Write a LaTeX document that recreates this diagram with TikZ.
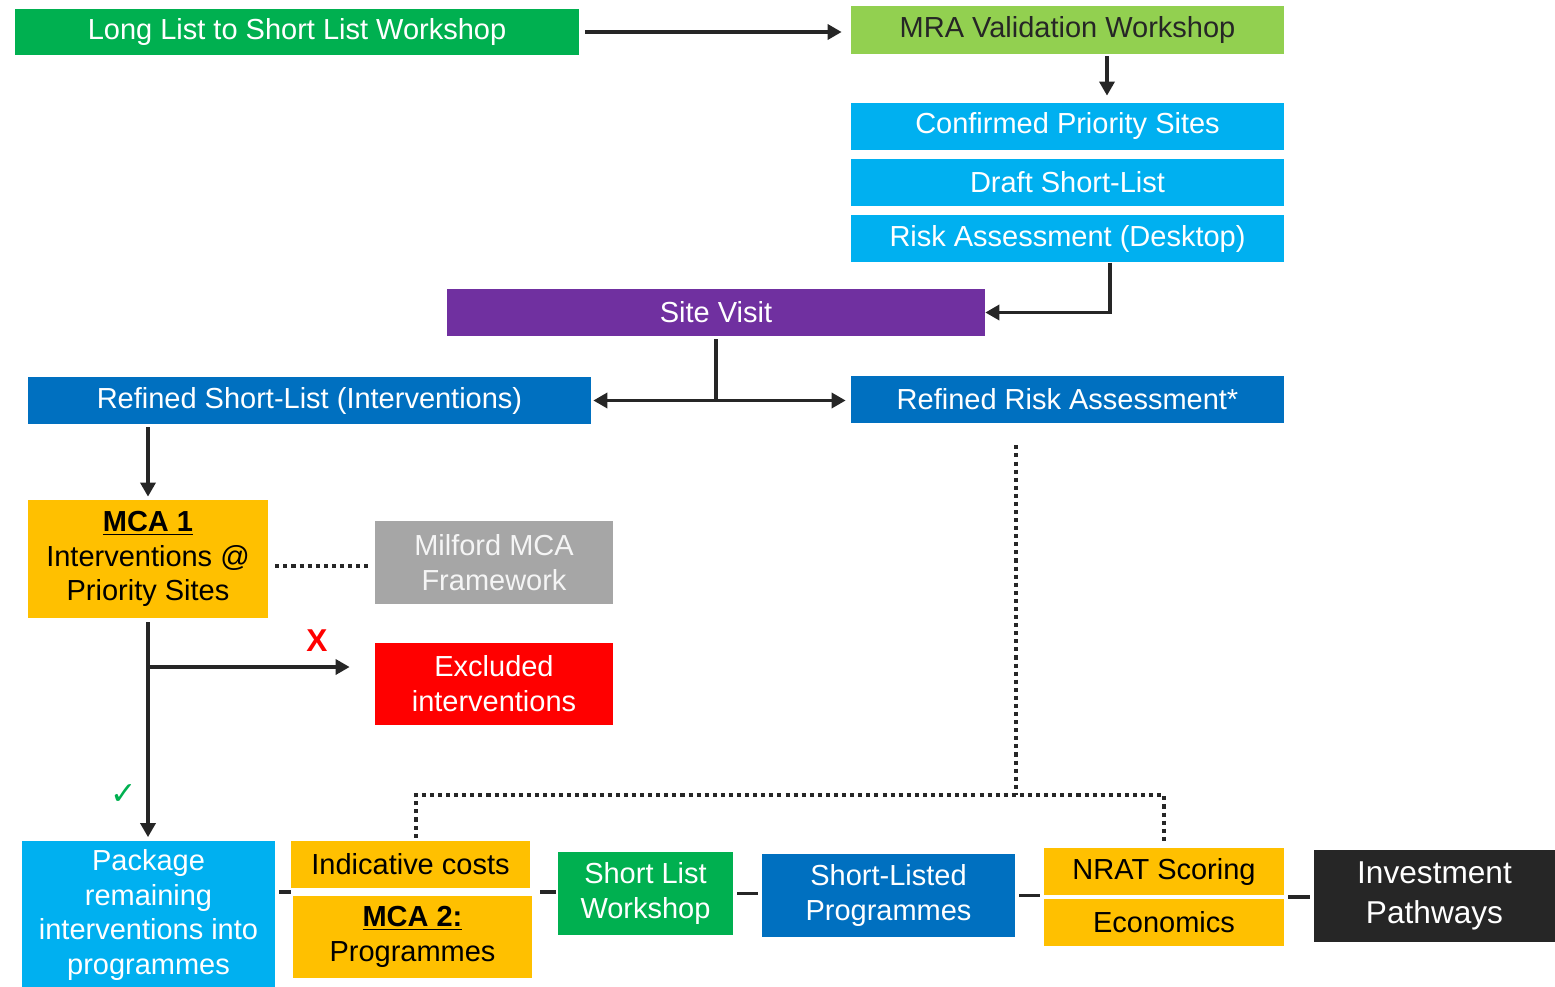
\documentclass[tikz,border=0pt]{standalone}
\usepackage{fontspec}
\setmainfont{Liberation Sans}
\newfontfamily\symbolfont{DejaVu Sans}
\usepackage{xcolor}
\usepackage{tikz}
\usetikzlibrary{positioning,arrows.meta,calc}
\definecolor{workgreen}{HTML}{00B050}
\definecolor{limegreen}{HTML}{92D050}
\definecolor{skyblue}{HTML}{00B0F0}
\definecolor{deepblue}{HTML}{0070C0}
\definecolor{visitpurple}{HTML}{7030A0}
\definecolor{mcaamber}{HTML}{FFC000}
\definecolor{framegray}{HTML}{A6A6A6}
\definecolor{dropred}{HTML}{FF0000}
\definecolor{inkdark}{HTML}{262626}
\tikzset{
  stage/.style={rectangle,inner sep=2pt,align=center,text=white,font=\fontsize{16.5}{19.8}\selectfont},
  bar/.style={stage,minimum width=8.66cm,minimum height=0.94cm},
  arrow/.style={-{Triangle[length=8pt,width=8.5pt]},line width=2pt,draw=inkdark},
  link/.style={line width=2pt,draw=inkdark},
  dotline/.style={line width=2.5pt,dash pattern=on 2.3pt off 2.3pt,draw=inkdark}
}

\begin{document}
\begin{tikzpicture}[x=0.02cm,y=-0.02cm,node distance=0.16cm]
\useasboundingbox (0,0) rectangle (1555,987);

\node[stage,fill=workgreen,minimum width=11.28cm,minimum height=0.92cm] (longlist) at (297,32) {Long List to Short List Workshop};
\node[bar,fill=limegreen,text=inkdark,minimum height=0.96cm] (mra) at (1067.5,30) {MRA Validation Workshop};
\node[bar,fill=skyblue] (priority) at (1067.5,126.5) {Confirmed Priority Sites};
\node[bar,fill=skyblue,below=of priority] (draft) {Draft Short-List};
\node[bar,fill=skyblue,below=0.18cm of draft] (desktop) {Risk Assessment (Desktop)};
\node[stage,fill=visitpurple,minimum width=10.76cm,minimum height=0.94cm] (visit) at (716,312.5) {Site Visit};
\node[stage,fill=deepblue,minimum width=11.26cm,minimum height=0.94cm] (refinedlist) at (309.5,400.5) {Refined Short-List (Interventions)};
\node[bar,fill=deepblue] (refinedrisk) at (1067.5,399.5) {Refined Risk Assessment*};

\node[stage,fill=mcaamber,text=black,minimum width=4.8cm,minimum height=2.36cm] (mcaone) at (148,559) {\underline{\textbf{MCA 1}}\\Interventions @\\Priority Sites};
\node[stage,fill=framegray,text=white!92!gray,minimum width=4.76cm,minimum height=1.66cm] (milford) at (494,562.5) {Milford MCA\\Framework};
\node[stage,fill=dropred,minimum width=4.76cm,minimum height=1.64cm] (excluded) at (494,684) {Excluded\\interventions};
\node[text=dropred,font=\bfseries\fontsize{18}{18}\selectfont] (cross) at (317,641) {X};
\node[text=workgreen,font=\symbolfont\fontsize{18}{18}\selectfont] (tick) at (124,795) {✓};

\node[stage,fill=skyblue,minimum width=5.06cm,minimum height=2.98cm] (package) at (148.5,915) {Package\\remaining\\interventions into\\programmes};
\node[stage,fill=mcaamber,text=black,minimum width=4.78cm,minimum height=0.94cm] (costs) at (410.5,864.5) {Indicative costs};
\node[stage,fill=mcaamber,text=black,minimum width=4.78cm,minimum height=1.64cm] (mcatwo) at (412.5,937) {\underline{\textbf{MCA 2:}}\\Programmes};
\node[stage,fill=workgreen,minimum width=3.5cm,minimum height=1.66cm] (slworkshop) at (645.5,893.5) {Short List\\Workshop};
\node[stage,fill=deepblue,minimum width=5.06cm,minimum height=1.66cm] (slprogrammes) at (888.5,895.5) {Short-Listed\\Programmes};
\node[stage,fill=mcaamber,text=black,minimum width=4.8cm,minimum height=0.94cm] (nrat) at (1164,871.5) {NRAT Scoring};
\node[stage,fill=mcaamber,text=black,minimum width=4.8cm,minimum height=0.94cm] (economics) at (1164,922.5) {Economics};
\node[stage,fill=inkdark,font=\fontsize{18}{22.5}\selectfont,minimum width=4.82cm,minimum height=1.84cm] (pathways) at (1434.5,896) {Investment\\Pathways};

\coordinate (split) at (visit.south |- refinedlist.east);
\coordinate (fork) at (148,667);
\coordinate (seam) at ($(costs.south)!0.5!(mcatwo.north)$);
\coordinate (seamtwo) at ($(nrat.south)!0.5!(economics.north)$);
\coordinate (dotjoin) at (1016,795);

\draw[arrow,shorten <=0.12cm,shorten >=0.18cm] (longlist.east) -- (longlist.east -| mra.west);
\draw[arrow,shorten <=0.04cm,shorten >=0.14cm] ([xshift=0.79cm]mra.south) -- ([xshift=0.79cm]priority.north);
\draw[arrow] ([xshift=0.85cm]desktop.south) |- (visit.east);
\draw[link,shorten <=0.06cm] (visit.south) -- (split);
\draw[arrow,shorten >=0.04cm] (split) -- (refinedlist.east);
\draw[arrow,shorten >=0.1cm] (split) -- (split -| refinedrisk.west);
\draw[arrow,shorten <=0.06cm,shorten >=0.06cm] (mcaone.north |- refinedlist.south) -- (mcaone.north);
\draw[dotline,shorten <=0.14cm,shorten >=0.06cm] ([yshift=-0.14cm]mcaone.east) -- ([yshift=-0.14cm]mcaone.east -| milford.west);
\draw[arrow,shorten <=0.08cm,shorten >=0.06cm] (mcaone.south) -- (mcaone.south |- package.north);
\draw[arrow,shorten >=0.5cm] (fork) -- (fork -| excluded.west);

\draw[link,shorten <=0.08cm] (seam -| package.east) -- (seam -| costs.west);
\draw[link,shorten <=0.16cm,shorten >=0.04cm] (seam -| mcatwo.east) -- (seam -| slworkshop.west);
\draw[link,shorten <=0.08cm,shorten >=0.08cm] (slworkshop.east) -- (slworkshop.east -| slprogrammes.west);
\draw[link,shorten <=0.08cm,shorten >=0.08cm] (slprogrammes.east) -- (slprogrammes.east -| nrat.west);
\draw[link,shorten <=0.08cm,shorten >=0.08cm] (seamtwo -| economics.east) -- (seamtwo -| pathways.west);

\draw[dotline,shorten <=0.44cm] (dotjoin |- refinedrisk.south) -- (dotjoin);
\draw[dotline,shorten <=0.06cm,shorten >=0.12cm] ([xshift=0.11cm]costs.north) |- (dotjoin) -| (nrat.north);

\end{tikzpicture}
\end{document}
